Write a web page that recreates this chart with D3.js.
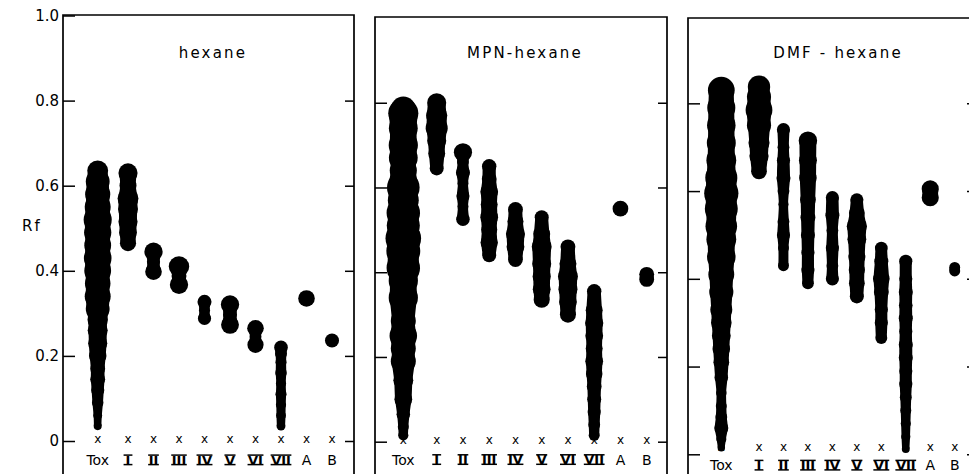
<!DOCTYPE html>
<html>
<head>
<meta charset="utf-8">
<script src="https://cdn.jsdelivr.net/npm/d3@7"></script>
<style>
  body { margin: 0; background: #fff; }
  svg text { font-family: "DejaVu Sans", sans-serif; fill: #000; }
</style>
</head>
<body>
<script>
// sample lanes spotted on each plate
const lanes = ["Tox", "I", "II", "III", "IV", "V", "VI", "VII", "A", "B"];
const solvents = ["hexane", "MPN-hexane", "DMF - hexane"];
const rfTicks = [0, 0.2, 0.4, 0.6, 0.8, 1.0];

// spots per lane: [Rf, spot width in mm] (solvent front run = 100 mm)
const hexaneSpots = [
  [[0.035,1.9],[0.06,2.1],[0.09,2.7],[0.12,3.1],[0.145,3.5],[0.17,3.5],[0.20,4.1],[0.23,4.5],[0.26,4.7],[0.285,4.8],[0.31,5.6],
   [0.34,6.1],[0.37,6.0],[0.40,6.3],[0.43,6.5],[0.46,6.3],[0.49,6.4],[0.52,6.6],[0.55,6.1],[0.58,5.9],[0.61,5.6],[0.635,4.9]],
  [[0.465,3.8],[0.49,4.2],[0.515,4.5],[0.545,4.7],[0.57,4.9],[0.60,4.0],[0.63,4.5]],
  [[0.398,3.9],[0.421,3.1],[0.445,4.3]],
  [[0.367,4.3],[0.388,3.5],[0.41,4.8]],
  [[0.288,3.1],[0.307,2.6],[0.327,3.3]],
  [[0.273,4.2],[0.297,3.3],[0.321,4.3]],
  [[0.226,3.8],[0.245,2.8],[0.265,3.9]],
  [[0.035,2.1],[0.06,2.3],[0.085,2.4],[0.11,2.6],[0.135,2.4],[0.16,2.7],[0.185,2.6],[0.205,2.8],[0.22,3.2]],
  [[0.335,3.9]],
  [[0.236,3.3]]
];

const mpnSpots = [
  [[0.015,2.4],[0.035,2.6],[0.065,3.2],[0.10,4.2],[0.145,4.7],[0.19,5.9],[0.22,5.9],[0.25,6.5],[0.285,5.9],[0.34,6.9],[0.38,6.9],
   [0.41,7.9],[0.45,8.0],[0.48,8.4],[0.51,7.8],[0.54,7.9],[0.57,7.3],[0.60,7.7],[0.64,6.4],[0.67,6.8],[0.70,6.9],[0.74,6.8],
   [0.775,7.1],[0.785,5.9]],
  [[0.645,3.3],[0.68,4.0],[0.71,4.5],[0.74,5.2],[0.77,5.0],[0.80,4.5]],
  [[0.525,3.2],[0.555,2.6],[0.58,3.1],[0.61,2.6],[0.635,3.3],[0.66,2.8],[0.683,4.3]],
  [[0.44,3.3],[0.47,4.1],[0.50,3.8],[0.53,4.2],[0.56,4.0],[0.59,4.2],[0.62,3.5],[0.65,3.4]],
  [[0.43,3.5],[0.46,4.2],[0.49,4.5],[0.52,3.8],[0.548,3.5]],
  [[0.335,3.8],[0.36,4.2],[0.39,4.3],[0.42,4.5],[0.46,4.7],[0.49,4.0],[0.53,3.3]],
  [[0.30,3.8],[0.33,4.2],[0.36,4.5],[0.39,4.7],[0.42,4.0],[0.46,3.5]],
  [[0.015,2.6],[0.04,2.8],[0.07,3.1],[0.10,3.3],[0.13,3.5],[0.16,3.9],[0.19,4.2],[0.22,4.0],[0.25,4.2],[0.28,4.3],[0.31,4.0],[0.355,3.4]],
  [[0.55,3.7]],
  [[0.383,3.5],[0.395,3.5]]
];

const dmfSpots = [
  [[0.015,1.7],[0.035,2.3],[0.06,3.2],[0.085,2.7],[0.11,2.5],[0.14,2.4],[0.175,3.1],[0.21,3.6],[0.24,4.0],[0.27,4.3],[0.30,4.7],
   [0.33,5.0],[0.37,5.5],[0.41,5.9],[0.45,6.5],[0.49,6.8],[0.52,7.2],[0.56,7.5],[0.595,7.8],[0.63,7.3],[0.67,6.8],[0.71,6.6],
   [0.75,6.5],[0.79,6.4],[0.83,6.1]],
  [[0.645,3.6],[0.68,4.4],[0.71,4.8],[0.75,5.5],[0.785,6.1],[0.815,5.5],[0.838,5.1]],
  [[0.43,2.5],[0.47,2.5],[0.50,3.0],[0.53,2.7],[0.57,2.3],[0.60,2.7],[0.63,3.2],[0.67,3.0],[0.70,2.7],[0.74,3.0]],
  [[0.39,2.7],[0.42,3.0],[0.46,3.0],[0.50,3.2],[0.54,3.4],[0.58,3.6],[0.63,4.0],[0.67,4.1],[0.715,4.2]],
  [[0.40,3.0],[0.43,2.7],[0.47,3.0],[0.51,2.7],[0.545,3.2],[0.585,3.0]],
  [[0.36,3.2],[0.39,3.6],[0.42,3.7],[0.45,3.9],[0.49,4.3],[0.52,4.6],[0.55,3.6],[0.58,3.0]],
  [[0.265,2.7],[0.30,3.0],[0.33,3.0],[0.37,3.4],[0.40,3.8],[0.44,3.2],[0.47,2.9]],
  [[0.012,1.8],[0.04,2.1],[0.07,2.3],[0.10,2.5],[0.13,2.7],[0.16,3.0],[0.19,3.0],[0.22,3.2],[0.25,3.2],[0.28,3.0],[0.31,3.2],
   [0.34,3.1],[0.37,3.2],[0.40,3.0],[0.44,3.0]],
  [[0.585,3.9],[0.605,3.9]],
  [[0.418,2.5],[0.426,2.5]]
];

// plate frames on the page
const plates = [
  {spots: hexaneSpots, left: 63, right: 354, top: 15, y0: 441, y1: 15.5, tox: 34.7, first: 65, last: 269, markUp: 0, labelDown: 19, labels: true},
  {spots: mpnSpots, left: 375, right: 667, top: 17, y0: 441.7, y1: 18, tox: 28.3, first: 61.7, last: 271.7, markUp: 0, labelDown: 18, labels: false},
  {spots: dmfSpots, left: 688, right: 976, top: 18, y0: 454.3, y1: 15.6, tox: 33.3, first: 71, last: 266.7, markUp: 6, labelDown: 11, labels: false}
];

const svg = d3.select("body")
  .append("svg")
  .attr("width", 969)
  .attr("height", 474);

svg.append("text")
  .attr("x", 22)
  .attr("y", 226)
  .attr("dy", "0.35em")
  .style("font-size", "15px")
  .style("letter-spacing", "2px")
  .text("Rf");

plates.forEach((p, i) => {
  const g = svg.append("g");

  const y = d3.scaleLinear().domain([0, 1]).range([p.y0, p.y1]);
  const mm = d3.scaleLinear().domain([0, 100]).range([0, p.y0 - p.y1]);
  const x = d3.scalePoint()
    .domain(lanes.slice(1))
    .range([p.left + p.first, p.left + p.last]);
  const laneX = lane => lane === "Tox" ? p.left + p.tox : x(lane);

  // frame, open at the bottom (plate runs off the page)
  g.append("path")
    .attr("d", `M${p.left},480V${p.top}H${p.right}V480`)
    .attr("fill", "none")
    .attr("stroke", "#000")
    .attr("stroke-width", 1.7);

  const left = d3.axisLeft(y)
    .tickValues(p.labels ? rfTicks : rfTicks.slice(0, 5))
    .tickSizeInner(-12)
    .tickSizeOuter(0)
    .tickPadding(4)
    .tickFormat(d => p.labels ? (d === 0 ? "0" : d3.format(".1f")(d)) : "");

  g.append("g")
    .attr("transform", `translate(${p.left},0)`)
    .call(left)
    .call(a => a.select(".domain").remove())
    .call(a => a.selectAll("line").attr("stroke-width", 1.5))
    .call(a => a.selectAll("text")
      .attr("font-family", null)
      .attr("font-size", null)
      .style("font-size", "15px"));

  g.append("g")
    .attr("transform", `translate(${p.right},0)`)
    .call(d3.axisRight(y).tickValues(rfTicks.slice(0, 5)).tickSizeInner(-9).tickSizeOuter(0).tickFormat(""))
    .call(a => a.select(".domain").remove())
    .call(a => a.selectAll("line").attr("stroke-width", 1.5));

  g.append("text")
    .attr("x", p.left + 150)
    .attr("y", 53)
    .attr("dy", "0.35em")
    .attr("text-anchor", "middle")
    .style("font-size", "15px")
    .style("letter-spacing", "2.2px")
    .text(solvents[i]);

  // spots
  lanes.forEach((lane, j) => {
    const cx = laneX(lane);
    const data = p.spots[j];
    const r = d => mm(d[1]) / 2;

    // body of a streak; the circles give it the lumpy edge
    const blob = d3.area()
      .curve(d3.curveCatmullRom)
      .y(d => y(d[0]))
      .x0(d => cx - 0.92 * r(d))
      .x1(d => cx + 0.92 * r(d));

    if (data.length > 1) {
      g.append("path")
        .datum(data)
        .attr("fill", "#000")
        .attr("d", blob);
    }

    g.selectAll(null)
      .data(data)
      .join("circle")
      .attr("cx", cx)
      .attr("cy", d => y(d[0]))
      .attr("r", r)
      .attr("fill", "#000");

    g.append("text")
      .attr("x", cx)
      .attr("y", y(0) - p.markUp)
      .attr("dy", "0.2em")
      .attr("text-anchor", "middle")
      .style("font-size", "12px")
      .text("x");

    // lane label; roman numerals carry bars top and bottom
    const ly = y(0) + p.labelDown;
    const roman = j >= 1 && j <= 7;
    const label = g.append("text")
      .attr("x", cx)
      .attr("y", ly)
      .attr("dy", "0.35em")
      .attr("text-anchor", "middle")
      .style("font-size", roman ? "13px" : "14px")
      .style("font-weight", roman ? "bold" : null)
      .text(lane);

    if (roman) {
      const w = label.node().getComputedTextLength() + (lane === "I" ? 4 : 1);
      [ly - 4.9, ly + 4.6].forEach(by => {
        g.append("line")
          .attr("x1", cx - w / 2)
          .attr("x2", cx + w / 2)
          .attr("y1", by)
          .attr("y2", by)
          .attr("stroke", "#000")
          .attr("stroke-width", 1.5);
      });
    }
  });
});
</script>
</body>
</html>
